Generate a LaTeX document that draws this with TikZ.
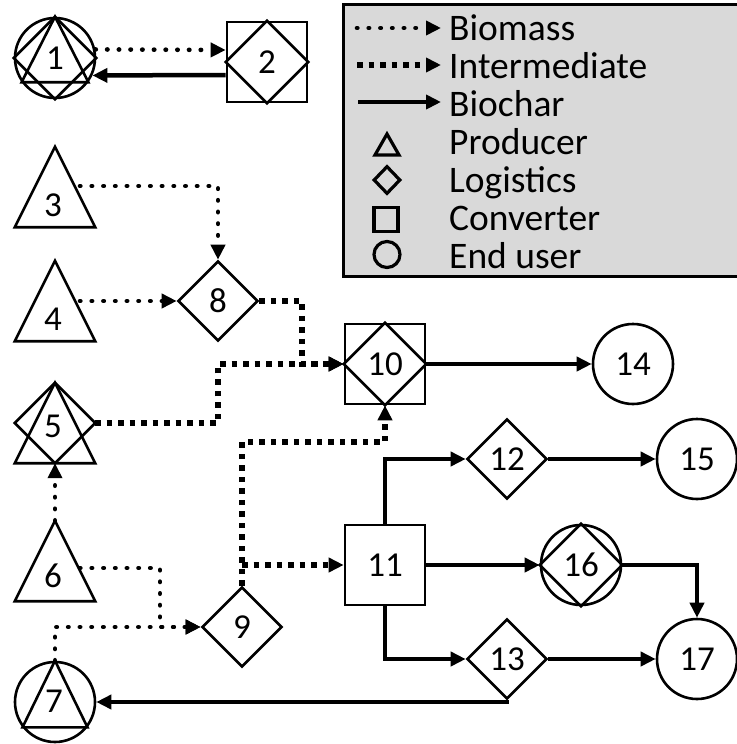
\documentclass[tikz,border=0pt]{standalone}
\usepackage{fontspec}
\setmainfont{Carlito}
\usetikzlibrary{arrows.meta,shapes.geometric,calc}
\begin{document}
\begin{tikzpicture}[x=1pt,y=-1pt,
  font=\fontsize{35}{40}\selectfont,
  >={Triangle[length=15pt,width=14pt]},
  ln/.style={draw, line width=2.6pt},
  box/.style={rectangle, inner sep=0pt, minimum size=80pt},
  sq/.style={rectangle, ln, inner sep=0pt, minimum size=80pt},
  dia/.style={diamond, ln, inner sep=0pt, minimum width=80pt, minimum height=80pt},
  circ/.style={circle, ln, inner sep=0pt, minimum size=80pt},
  num/.style={inner sep=0pt},
  biomass/.style={->, line width=4.6pt, line cap=round, dash pattern=on 0.4pt off 11.3pt},
  inter/.style={->, line width=5.5pt, line cap=butt, dash pattern=on 5.5pt off 6pt},
  biochar/.style={->, line width=4.5pt},
  legtxt/.style={anchor=base west, inner sep=0pt, font=\fontsize{37.5}{40}\selectfont}
]
\useasboundingbox (0,0) rectangle (736,744);

% legend
\path[fill=black!15, draw=black, line width=3pt] (343,4) rectangle (760,276);
\coordinate (lb1) at (357,28);  \coordinate (lb2) at (441,28);
\coordinate (li1) at (357,65);  \coordinate (li2) at (441,65);
\coordinate (lc1) at (358,102); \coordinate (lc2) at (441,102);
\draw[biomass] (lb1) -- (lb2);
\draw[inter] (li1) -- (li2);
\draw[biochar] (lc1) -- (lc2);
\node[legtxt] (ltb) at (449,40) {Biomass};
\node[legtxt] (lti) at (449,78) {Intermediate};
\node[legtxt] (ltc) at (449,116) {Biochar};
\node[legtxt] (ltp) at (449,154) {Producer};
\node[legtxt] (ltl) at (449,192) {Logistics};
\node[legtxt] (ltv) at (449,230) {Converter};
\node[legtxt] (ltu) at (449,268) {End user};
\draw[line width=3.2pt] (387,134) -- (399,155) -- (375,155) -- cycle;
\node[diamond, draw, line width=3.2pt, inner sep=0pt, minimum width=27pt, minimum height=28pt] (lsd) at (387,180) {};
\node[rectangle, draw, line width=3.2pt, inner sep=0pt, minimum size=24pt] (lss) at (386,219.5) {};
\node[circle, draw, line width=3.2pt, inner sep=0pt, minimum size=26pt] (lsc) at (387,254.5) {};

% nodes
\node[circ] (n1) at (55,58) {1};
\draw[ln] (n1.north) -- (n1.east) -- (n1.south) -- (n1.west) -- cycle;
\draw[ln] (n1.north) -- (n1.-36) -- (n1.-144) -- cycle;

\node[sq] (n2) at (267,62) {2};
\draw[ln] (n2.north) -- (n2.east) -- (n2.south) -- (n2.west) -- cycle;

\node[box] (n3) at (55,187) {};
\draw[ln] (n3.north) -- (n3.south east) -- (n3.south west) -- cycle;
\node[num] (t3) at ($(n3.center)+(-2,18)$) {3};

\node[box] (n4) at (55,301) {};
\draw[ln] (n4.north) -- (n4.south east) -- (n4.south west) -- cycle;
\node[num] (t4) at ($(n4.center)+(-2,18)$) {4};

\node[box] (n5) at (55,423) {};
\draw[ln] (n5.north) -- (n5.south east) -- (n5.south west) -- cycle;
\draw[ln] (n5.north) -- (n5.east) -- (n5.south) -- (n5.west) -- cycle;
\node[num] (t5) at ($(n5.center)+(-2,3)$) {5};

\node[box] (n6) at (55,561) {};
\draw[ln] (n6.north) -- (n6.south east) -- (n6.south west) -- cycle;
\node[num] (t6) at ($(n6.center)+(-2,15)$) {6};

\node[circ] (n7) at (55,702) {};
\draw[ln] (n7.north) -- (n7.-38) -- (n7.-142) -- cycle;
\node[num] (t7) at ($(n7.center)+(-1,-1)$) {7};

\node[dia] (n8) at (218,301) {8};
\node[dia] (n9) at (242,627) {9};

\node[sq] (n10) at (385,364) {10};
\draw[ln] (n10.north) -- (n10.east) -- (n10.south) -- (n10.west) -- cycle;

\node[sq] (n11) at (385,565) {11};
\node[dia] (n12) at (507,459) {12};
\node[dia] (n13) at (507,659) {13};
\node[circ] (n14) at (633,364) {14};
\node[circ] (n15) at (697,459) {15};
\node[circ] (n16) at (581,565) {16};
\draw[ln] (n16.north) -- (n16.east) -- (n16.south) -- (n16.west) -- cycle;
\node[circ] (n17) at (697,659) {17};

% junctions
\coordinate (j1) at (302,364);
\coordinate (j2) at (218,364);
\coordinate (j3) at (160,627);
\coordinate (j4) at (300,442);

% connectors
\draw[biomass] (n1.12) -- ([yshift=12pt]n2.west);
\draw[biochar] ([yshift=-13pt]n2.west) -- (n1.-25);
\draw[biomass] ($(n3.center)+(25,-1)$) -| (n8.north);
\draw[biomass] ($(n4.center)+(25,0)$) -- (n8.west);
\draw[inter] (n8.east) -| (j1) -- (n10.west);
\draw[inter] (n5.east) -| (j2) -- (n10.west);
\draw[biomass] (n6.north) -- (n5.south);
\draw[biomass] ($(n6.center)+(25,7)$) -| (j3) -- (n9.west);
\draw[biomass] (n7.north) |- (n9.west);
\draw[inter] (n9.north) |- (j4) -| (n10.south);
\draw[inter] (n9.north |- n11.west) -- (n11.west);
\draw[biochar] (n10.east) -- (n14.west);
\draw[biochar] (n11.north) |- (n12.west);
\draw[biochar] (n12.east) -- (n15.west);
\draw[biochar] (n11.east) -- (n16.west);
\draw[biochar] (n11.south) |- (n13.west);
\draw[biochar] (n13.east) -- (n17.west);
\draw[biochar] (n16.east) -| (n17.north);
\draw[biochar] (n13.south) |- (n7.east);
\end{tikzpicture}
\end{document}
